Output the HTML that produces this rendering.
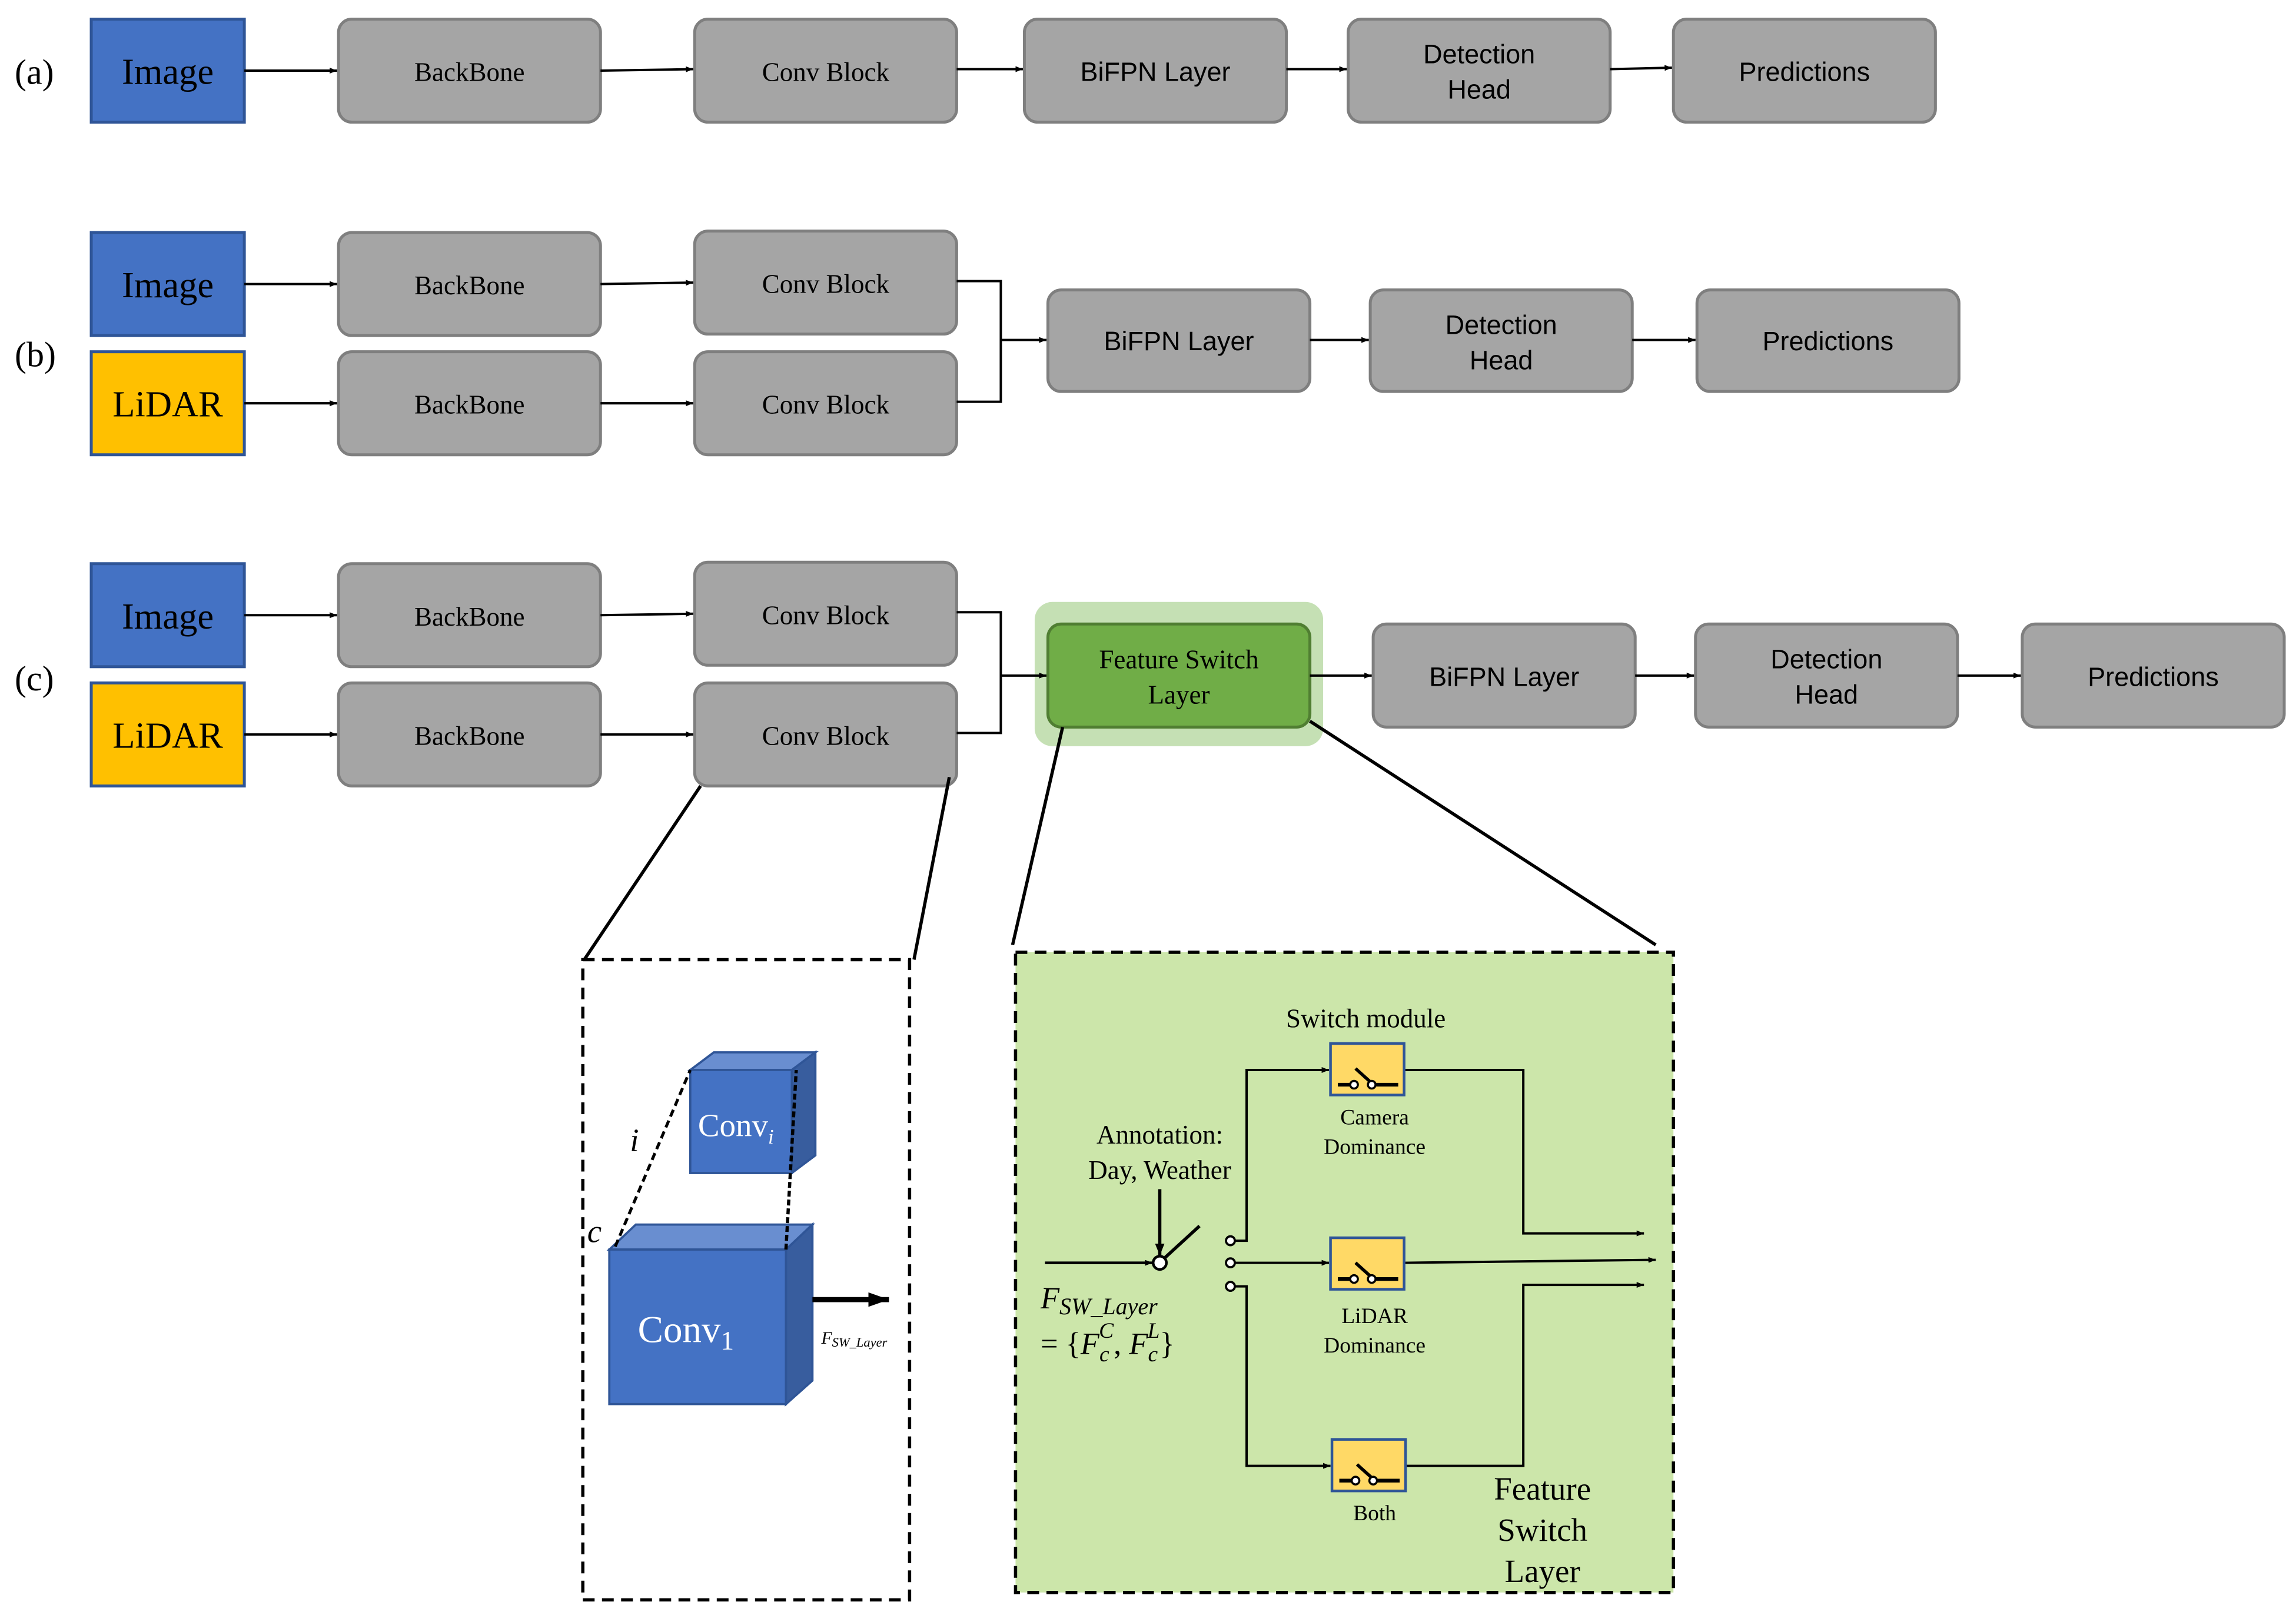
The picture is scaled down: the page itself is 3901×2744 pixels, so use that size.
<!DOCTYPE html>
<html><head><meta charset="utf-8"><style>html,body{margin:0;padding:0;background:#fff}svg{display:block}</style></head>
<body>
<svg width="3901" height="2744" viewBox="0 0 1560 1097.3" preserveAspectRatio="none" xmlns="http://www.w3.org/2000/svg">
<defs>
<marker id="ah" viewBox="0 0 10 10" refX="10" refY="5" markerWidth="5" markerHeight="5" orient="auto" markerUnits="userSpaceOnUse"><path d="M0,1 L10,5 L0,9z" fill="#000"/></marker>
<marker id="ah2" viewBox="0 0 10 10" refX="10" refY="5" markerWidth="8" markerHeight="8" orient="auto" markerUnits="userSpaceOnUse"><path d="M0,1 L10,5 L0,9z" fill="#000"/></marker>
<marker id="ah3" viewBox="0 0 10 10" refX="10" refY="5" markerWidth="14" markerHeight="14" orient="auto" markerUnits="userSpaceOnUse"><path d="M0,1.5 L10,5 L0,8.5z" fill="#000"/></marker>
<style>
.g{fill:#A5A5A5;stroke:#7F7F7F;stroke-width:2}
.bl{fill:#4472C4;stroke:#2F5597;stroke-width:2}
.ye{fill:#FFC000;stroke:#2F5597;stroke-width:2}
.ser{font-family:"Liberation Serif",serif}
.san{font-family:"Liberation Sans",sans-serif}
.a{stroke:#000;stroke-width:1.6;fill:none;marker-end:url(#ah)}
.l{stroke:#000;stroke-width:1.6;fill:none}
.l2{stroke:#000;stroke-width:2.2;fill:none}
</style>
</defs>

<text class="ser" x="10" y="57" font-size="24">(a)</text>
<text class="ser" x="10" y="249" font-size="24">(b)</text>
<text class="ser" x="10" y="469" font-size="24">(c)</text>

<rect class="bl" x="62" y="13" width="104" height="70"/>
<text class="ser" x="114" y="57" font-size="25" text-anchor="middle">Image</text>
<rect class="g" x="230" y="13" width="178" height="70" rx="9"/>
<text class="ser" x="319" y="55" font-size="18" text-anchor="middle">BackBone</text>
<rect class="g" x="472" y="13" width="178" height="70" rx="9"/>
<text class="ser" x="561" y="55" font-size="18" text-anchor="middle">Conv Block</text>
<rect class="g" x="696" y="13" width="178" height="70" rx="9"/>
<text class="san" x="785" y="55" font-size="18" text-anchor="middle">BiFPN Layer</text>
<rect class="g" x="916" y="13" width="178" height="70" rx="9"/>
<text class="san" x="1005" y="43" font-size="18" text-anchor="middle">Detection</text>
<text class="san" x="1005" y="67" font-size="18" text-anchor="middle">Head</text>
<rect class="g" x="1137" y="13" width="178" height="70" rx="9"/>
<text class="san" x="1226" y="55" font-size="18" text-anchor="middle">Predictions</text>
<line class="a" x1="166" y1="48" x2="229" y2="48"/>
<line class="a" x1="408" y1="48" x2="471" y2="47"/>
<line class="a" x1="650" y1="47" x2="695" y2="47"/>
<line class="a" x1="874" y1="47" x2="915" y2="47"/>
<line class="a" x1="1094" y1="47" x2="1136" y2="46"/>

<rect class="bl" x="62" y="158" width="104" height="70"/>
<text class="ser" x="114" y="202" font-size="25" text-anchor="middle">Image</text>
<rect class="ye" x="62" y="239" width="104" height="70"/>
<text class="ser" x="114" y="283" font-size="25" text-anchor="middle">LiDAR</text>
<rect class="g" x="230" y="158" width="178" height="70" rx="9"/>
<text class="ser" x="319" y="200" font-size="18" text-anchor="middle">BackBone</text>
<rect class="g" x="230" y="239" width="178" height="70" rx="9"/>
<text class="ser" x="319" y="281" font-size="18" text-anchor="middle">BackBone</text>
<rect class="g" x="472" y="157" width="178" height="70" rx="9"/>
<text class="ser" x="561" y="199" font-size="18" text-anchor="middle">Conv Block</text>
<rect class="g" x="472" y="239" width="178" height="70" rx="9"/>
<text class="ser" x="561" y="281" font-size="18" text-anchor="middle">Conv Block</text>
<rect class="g" x="712" y="197" width="178" height="69" rx="9"/>
<text class="san" x="801" y="238" font-size="18" text-anchor="middle">BiFPN Layer</text>
<rect class="g" x="931" y="197" width="178" height="69" rx="9"/>
<text class="san" x="1020" y="227" font-size="18" text-anchor="middle">Detection</text>
<text class="san" x="1020" y="251" font-size="18" text-anchor="middle">Head</text>
<rect class="g" x="1153" y="197" width="178" height="69" rx="9"/>
<text class="san" x="1242" y="238" font-size="18" text-anchor="middle">Predictions</text>
<line class="a" x1="166" y1="193" x2="229" y2="193"/>
<line class="a" x1="166" y1="274" x2="229" y2="274"/>
<line class="a" x1="408" y1="193" x2="471" y2="192"/>
<line class="a" x1="408" y1="274" x2="471" y2="274"/>
<polyline class="l" points="650,191 680,191 680,273 650,273"/>
<line class="a" x1="680" y1="231" x2="711" y2="231"/>
<line class="a" x1="890" y1="231" x2="930" y2="231"/>
<line class="a" x1="1109" y1="231" x2="1152" y2="231"/>

<rect class="bl" x="62" y="383" width="104" height="70"/>
<text class="ser" x="114" y="427" font-size="25" text-anchor="middle">Image</text>
<rect class="ye" x="62" y="464" width="104" height="70"/>
<text class="ser" x="114" y="508" font-size="25" text-anchor="middle">LiDAR</text>
<rect class="g" x="230" y="383" width="178" height="70" rx="9"/>
<text class="ser" x="319" y="425" font-size="18" text-anchor="middle">BackBone</text>
<rect class="g" x="230" y="464" width="178" height="70" rx="9"/>
<text class="ser" x="319" y="506" font-size="18" text-anchor="middle">BackBone</text>
<rect class="g" x="472" y="382" width="178" height="70" rx="9"/>
<text class="ser" x="561" y="424" font-size="18" text-anchor="middle">Conv Block</text>
<rect class="g" x="472" y="464" width="178" height="70" rx="9"/>
<text class="ser" x="561" y="506" font-size="18" text-anchor="middle">Conv Block</text>
<rect x="703" y="409" width="196" height="98" rx="12" fill="#C5E0B4"/>
<rect x="712" y="424" width="178" height="70" rx="9" fill="#70AD47" stroke="#507E32" stroke-width="2"/>
<text class="ser" x="801" y="454" font-size="18" text-anchor="middle">Feature Switch</text>
<text class="ser" x="801" y="478" font-size="18" text-anchor="middle">Layer</text>
<rect class="g" x="933" y="424" width="178" height="70" rx="9"/>
<text class="san" x="1022" y="466" font-size="18" text-anchor="middle">BiFPN Layer</text>
<rect class="g" x="1152" y="424" width="178" height="70" rx="9"/>
<text class="san" x="1241" y="454" font-size="18" text-anchor="middle">Detection</text>
<text class="san" x="1241" y="478" font-size="18" text-anchor="middle">Head</text>
<rect class="g" x="1374" y="424" width="178" height="70" rx="9"/>
<text class="san" x="1463" y="466" font-size="18" text-anchor="middle">Predictions</text>
<line class="a" x1="166" y1="418" x2="229" y2="418"/>
<line class="a" x1="166" y1="499" x2="229" y2="499"/>
<line class="a" x1="408" y1="418" x2="471" y2="417"/>
<line class="a" x1="408" y1="499" x2="471" y2="499"/>
<polyline class="l" points="650,416 680,416 680,498 650,498"/>
<line class="a" x1="680" y1="459" x2="711" y2="459"/>
<line class="a" x1="890" y1="459" x2="932" y2="459"/>
<line class="a" x1="1111" y1="459" x2="1151" y2="459"/>
<line class="a" x1="1330" y1="459" x2="1373" y2="459"/>

<line class="l2" x1="476" y1="534" x2="397" y2="652"/>
<line class="l2" x1="645" y1="528" x2="621" y2="652"/>
<line class="l2" x1="722" y1="494" x2="688" y2="642"/>
<line class="l2" x1="890" y1="490" x2="1125" y2="642"/>

<rect x="396" y="652" width="222" height="435" fill="#fff" stroke="#000" stroke-width="2.2" stroke-dasharray="8,5"/>
<polygon points="469,727 485,715 554,715 538,727" fill="#698ED0" stroke="#2F5597" stroke-width="1.5"/>
<polygon points="538,727 554,715 554,785 538,797" fill="#385D9E" stroke="#2F5597" stroke-width="1.5"/>
<rect x="469" y="727" width="69" height="70" fill="#4472C4" stroke="#2F5597" stroke-width="1.5"/>
<text class="ser" x="500" y="772" font-size="22" fill="#fff" text-anchor="middle">Conv<tspan font-size="14" font-style="italic" dy="5">i</tspan></text>
<polygon points="414,849 432,832 552,832 534,849" fill="#698ED0" stroke="#2F5597" stroke-width="1.5"/>
<polygon points="534,849 552,832 552,938 534,954" fill="#385D9E" stroke="#2F5597" stroke-width="1.5"/>
<rect x="414" y="849" width="120" height="105" fill="#4472C4" stroke="#2F5597" stroke-width="1.5"/>
<text class="ser" x="466" y="912" font-size="26" fill="#fff" text-anchor="middle">Conv<tspan font-size="18" dy="5">1</tspan></text>
<line x1="418" y1="847" x2="469" y2="727" stroke="#000" stroke-width="2" stroke-dasharray="5,3"/>
<line x1="534" y1="849" x2="541" y2="727" stroke="#000" stroke-width="2.2" stroke-dasharray="4,2"/>
<text class="ser" x="428" y="782" font-size="22" font-style="italic">i</text>
<text class="ser" x="399" y="844" font-size="22" font-style="italic">c</text>
<line x1="552" y1="883" x2="604" y2="883" stroke="#000" stroke-width="3.5" marker-end="url(#ah3)"/>
<text class="ser" x="558" y="913" font-size="12" font-style="italic">F<tspan font-size="9" dy="2">SW_Layer</tspan></text>

<rect x="690" y="647" width="447" height="435" fill="#CCE6AA" stroke="#000" stroke-width="2.2" stroke-dasharray="8,5"/>
<text class="ser" x="928" y="698" font-size="18" text-anchor="middle">Switch module</text>
<text class="ser" x="788" y="777" font-size="18" text-anchor="middle">Annotation:</text>
<text class="ser" x="788" y="801" font-size="18" text-anchor="middle">Day, Weather</text>
<line x1="788" y1="808" x2="788" y2="853" stroke="#000" stroke-width="2.2" marker-end="url(#ah2)"/>
<line x1="710" y1="858" x2="783" y2="858" stroke="#000" stroke-width="1.8" marker-end="url(#ah)"/>
<circle cx="788" cy="858" r="4.5" fill="#fff" stroke="#000" stroke-width="1.8"/>
<line x1="791" y1="855" x2="815" y2="833" stroke="#000" stroke-width="2.2"/>
<circle cx="836" cy="843" r="3" fill="#fff" stroke="#000" stroke-width="1.5"/>
<circle cx="836" cy="858" r="3" fill="#fff" stroke="#000" stroke-width="1.5"/>
<circle cx="836" cy="874" r="3" fill="#fff" stroke="#000" stroke-width="1.5"/>
<polyline class="a" points="839,843 847,843 847,727 903,727"/>
<line class="a" x1="839" y1="858" x2="903" y2="858"/>
<polyline class="a" points="839,874 847,874 847,996 904,996"/>
<polyline class="a" points="954,727 1035,727 1035,838 1117,838"/>
<line class="a" x1="954" y1="858" x2="1125" y2="856"/>
<polyline class="a" points="955,996 1035,996 1035,873 1117,873"/>

<g id="sw1">
<rect x="904" y="709" width="50" height="35" fill="#FFD966" stroke="#2F5597" stroke-width="1.8"/>
<line x1="909" y1="737" x2="917" y2="737" stroke="#000" stroke-width="2.5"/>
<line x1="935" y1="737" x2="950" y2="737" stroke="#000" stroke-width="2.5"/>
<circle cx="920" cy="737" r="2.6" fill="#fff" stroke="#000" stroke-width="1.4"/>
<circle cx="932" cy="737" r="2.6" fill="#fff" stroke="#000" stroke-width="1.4"/>
<line x1="921" y1="726" x2="931" y2="735" stroke="#000" stroke-width="2.2"/>
</g>
<use href="#sw1" transform="translate(0,132)"/>
<use href="#sw1" transform="translate(1,269)"/>
<text class="ser" x="934" y="764" font-size="15" text-anchor="middle">Camera</text>
<text class="ser" x="934" y="784" font-size="15" text-anchor="middle">Dominance</text>
<text class="ser" x="934" y="899" font-size="15" text-anchor="middle">LiDAR</text>
<text class="ser" x="934" y="919" font-size="15" text-anchor="middle">Dominance</text>
<text class="ser" x="934" y="1033" font-size="15" text-anchor="middle">Both</text>

<text class="ser" x="707" y="889" font-size="21" font-style="italic">F<tspan font-size="16" dy="4">SW_Layer</tspan></text>
<text class="ser" x="707" y="920" font-size="21">= {<tspan font-style="italic">F</tspan><tspan font-style="italic" font-size="15" dy="5">c</tspan><tspan font-style="italic" font-size="15" dx="-7" dy="-16">C</tspan><tspan dy="11">, </tspan><tspan font-style="italic">F</tspan><tspan font-style="italic" font-size="15" dy="5">c</tspan><tspan font-style="italic" font-size="15" dx="-7" dy="-16">L</tspan><tspan dy="11">}</tspan></text>

<text class="ser" x="1048" y="1019" font-size="22" text-anchor="middle">Feature</text>
<text class="ser" x="1048" y="1047" font-size="22" text-anchor="middle">Switch</text>
<text class="ser" x="1048" y="1075" font-size="22" text-anchor="middle">Layer</text>
</svg>
</body></html>
